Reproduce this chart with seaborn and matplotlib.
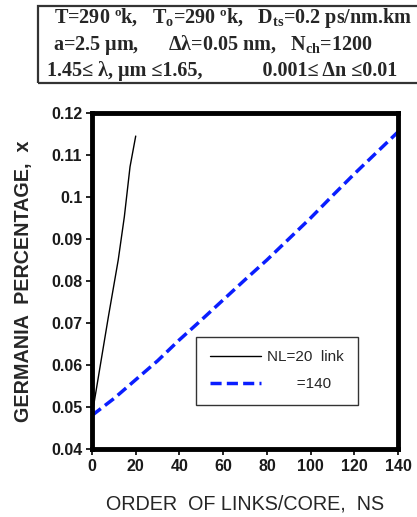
import matplotlib
matplotlib.use("Agg")
import matplotlib.pyplot as plt
import seaborn as sns
import pandas as pd
from matplotlib.patches import Rectangle

# Germania percentage versus order of links per core
ns_20 = [0, 3.7, 7.5, 12, 14.8, 17.4, 20]
x_20 = [0.048, 0.0596, 0.0715, 0.085, 0.0953, 0.1072, 0.1145]

ns_140 = [0, 10, 20, 30, 40, 50, 60, 70, 80, 90, 100, 110, 120, 130, 140]
x_140 = [0.048, 0.052, 0.0565, 0.061, 0.066, 0.0707, 0.0755, 0.0803,
         0.085, 0.090, 0.095, 0.1003, 0.1055, 0.1105, 0.1155]

series_labels = ["NL=20  link", "       =140"]
x_ticks = [0, 20, 40, 60, 80, 100, 120, 140]
y_ticks = [0.04, 0.05, 0.06, 0.07, 0.08, 0.09, 0.1, 0.11, 0.12]
y_tick_labels = ["0.04", "0.05", "0.06", "0.07", "0.08", "0.09", "0.1", "0.11", "0.12"]

df = pd.concat([
    pd.DataFrame({"NS": ns_20, "x": x_20, "series": series_labels[0]}),
    pd.DataFrame({"NS": ns_140, "x": x_140, "series": series_labels[1]}),
])

sns.set_style("ticks")
plt.rcParams["font.family"] = ["Liberation Sans", "DejaVu Sans"]
plt.rcParams["mathtext.fontset"] = "custom"
plt.rcParams["mathtext.rm"] = "Liberation Serif:bold"
plt.rcParams["mathtext.it"] = "Liberation Serif:bold"
plt.rcParams["mathtext.bf"] = "Liberation Serif:bold"

fig = plt.figure(figsize=(4.17, 5.17), dpi=100)
ax = fig.add_axes([0.2206, 0.1315, 0.7340, 0.6500])

sns.lineplot(data=df, x="NS", y="x", hue="series", style="series",
             palette=["black", "#0a1eff"], dashes=[(None, None), (3.2, 1.5)],
             sort=False, estimator=None, ax=ax, legend=False)
lines = ax.get_lines()
lines[0].set_linewidth(1.0)
lines[1].set_linewidth(2.5)

ax.set_xlim(0, 140)
ax.set_ylim(0.04, 0.12)
ax.set_xticks(x_ticks)
ax.set_yticks(y_ticks)
ax.set_yticklabels(y_tick_labels)
for s in ax.spines.values():
    s.set_linewidth(3.5)
    s.set_color("black")
ax.tick_params(axis="both", direction="out", length=4, width=1.2,
               color="black", labelsize=11.5, pad=3)
for lab in ax.get_xticklabels() + ax.get_yticklabels():
    lab.set_fontweight("bold")
    lab.set_color("#1a1a1a")

ax.set_xlabel("ORDER  OF LINKS/CORE,  NS", fontsize=14.2, labelpad=15)
ax.set_ylabel("GERMANIA  PERCENTAGE,  x", fontsize=14.2, fontweight="bold",
              labelpad=13)

leg = ax.legend(lines, series_labels, loc="lower right",
                bbox_to_anchor=(0.869, 0.131), borderaxespad=0,
                frameon=True, fancybox=False,
                fontsize=11, handlelength=3.3, borderpad=0.9,
                labelspacing=0.85, handletextpad=0.45)
leg.get_frame().set_edgecolor("black")
leg.get_frame().set_linewidth(1.0)

# Parameter box above the plot
fig.patches.append(Rectangle((38 / 417, 1 - 83 / 517), 400 / 417, 77 / 517,
                             transform=fig.transFigure, fill=False,
                             edgecolor="#333333", linewidth=1.6))
param_lines = [
    (54, 18, r"T=290 ºk,   T$_\mathrm{o}$=290 ºk,   D$_\mathrm{ts}$=0.2 ps/nm.km"),
    (53, 45, r"a=2.5 μm,      Δλ=0.05 nm,   N$_\mathrm{ch}$=1200"),
    (47, 71, r"1.45≤ λ, μm ≤1.65,            0.001≤ Δn ≤0.01"),
]
for px, py, txt in param_lines:
    fig.text(px / 417, 1 - py / 517, txt, ha="left", va="center",
             fontsize=14.5, fontweight="bold",
             family=["Liberation Serif", "DejaVu Serif"])

fig.savefig("out.png", dpi=100)
